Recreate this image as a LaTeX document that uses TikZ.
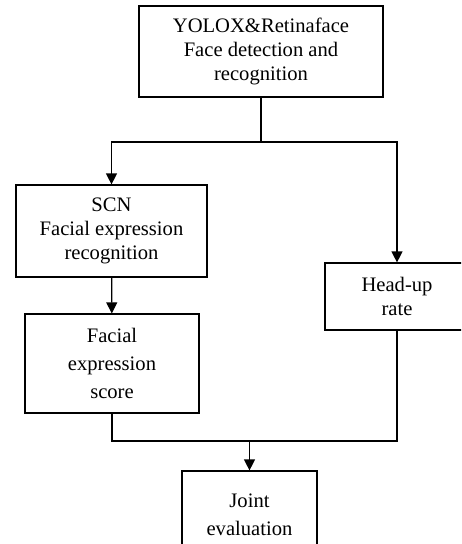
\documentclass[tikz,border=0pt]{standalone}
\usepackage{fontspec}
\setmainfont{Liberation Serif}
\usepackage{tikz}
\usetikzlibrary{arrows.meta}

\tikzset{
	box/.style={draw, line width=1.2, rectangle, inner sep=0, align=center,
		font=\fontsize{20.6}{24}\selectfont},
	arr/.style={-{Triangle[width=11pt,length=11pt]}, line width=1.2},
	ln/.style={line width=1.2}
}

\begin{document}
\begin{tikzpicture}[x=1pt, y=-1pt]
	\useasboundingbox (0,0) rectangle (461,544);
	\clip (0,0) rectangle (461,544);

	\node[box, minimum width=244, minimum height=91] (yolo) at (261,51.5)
		{YOLOX\&Retinaface\\Face detection and\\recognition};
	\node[box, minimum width=191, minimum height=92] (scn) at (111.5,231)
		{SCN\\Facial expression\\recognition};
	\node[box, minimum width=174, minimum height=99] (score) at (112,363.5)
		{Facial\\[4pt]expression\\[4pt]score};
	\node[box, minimum width=144, minimum height=67] (head) at (397,296.5)
		{Head-up\\rate};
	\node[box, minimum width=135, minimum height=88] (joint) at (249.5,515)
		{Joint\\[4pt]evaluation};

	\coordinate (split) at (261,142);
	\coordinate (merge) at (249.5,441);

	\draw[ln] (yolo.south) -- (split);
	\draw[arr] (split) -| (scn.north);
	\draw[arr] (split) -| (head.north);
	\draw[arr] (scn) -- (score);

	\draw[ln] (score.south) |- (merge) -| (head.south);
	\draw[arr] (merge) -- (joint.north);
\end{tikzpicture}
\end{document}
